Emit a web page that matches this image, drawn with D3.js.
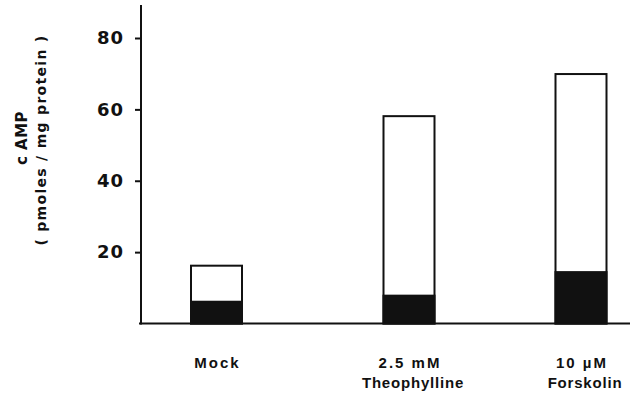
<!DOCTYPE html>
<html>
<head>
<meta charset="utf-8">
<script src="https://cdn.jsdelivr.net/npm/d3@7"></script>
<style>
  body { margin: 0; background: #fff; overflow: hidden; }
  svg { display: block; }
  svg text { font-family: "DejaVu Sans", sans-serif; font-weight: bold; fill: #111; }
  svg text.cat { font-family: "Liberation Sans", Arial, sans-serif; }
</style>
</head>
<body>
<svg id="chart" width="630" height="394"></svg>
<script>
// cAMP levels, total (open bar) and the filled lower part
const categories = ["Mock", "Theophylline", "Forskolin"];
const labelLine1 = ["Mock", "2.5  mM", "10  \u00B5M"];
const labelLine2 = ["", "Theophylline", "Forskolin"];
const totalValues = [16.2, 58.1, 69.9];
const filledValues = [6.1, 7.8, 14.4];
const yTicks = [20, 40, 60, 80];

const svg = d3.select("#chart");

const y = d3.scaleLinear().domain([0, 80]).range([323.5, 38]);
// bars are not evenly spaced in the original figure
const x = d3.scaleOrdinal().domain(categories).range([216.5, 409, 581]);
const barW = 51;

// baseline
svg.append("line")
  .attr("x1", 139).attr("x2", 630)
  .attr("y1", y(0)).attr("y2", y(0))
  .attr("stroke", "#111").attr("stroke-width", 2);

// y axis
const yAxis = d3.axisLeft(y).tickValues(yTicks).tickSize(6).tickPadding(11);
const gy = svg.append("g").attr("transform", "translate(141,0)").call(yAxis);
gy.select(".domain").remove();
gy.selectAll(".tick line").attr("stroke", "#111").attr("stroke-width", 2);
gy.selectAll(".tick text")
  .style("font-size", "18px")
  .style("font-family", "DejaVu Sans, sans-serif")
  .style("font-weight", "bold")
  .style("letter-spacing", "1px")
  .attr("fill", "#111");
svg.append("line")
  .attr("x1", 141).attr("x2", 141)
  .attr("y1", 5).attr("y2", y(0) + 1)
  .attr("stroke", "#111").attr("stroke-width", 2);

// open bars (total)
svg.selectAll("rect.total")
  .data(categories)
  .join("rect")
  .attr("class", "total")
  .attr("x", d => x(d) - barW / 2)
  .attr("width", barW)
  .attr("y", (d, i) => y(totalValues[i]))
  .attr("height", (d, i) => y(0) - y(totalValues[i]))
  .attr("fill", "#fff")
  .attr("stroke", "#111")
  .attr("stroke-width", 2);

// filled portion
svg.selectAll("rect.filled")
  .data(categories)
  .join("rect")
  .attr("class", "filled")
  .attr("x", d => x(d) - barW / 2)
  .attr("width", barW)
  .attr("y", (d, i) => y(filledValues[i]))
  .attr("height", (d, i) => y(0) - y(filledValues[i]))
  .attr("fill", "#111")
  .attr("stroke", "#111")
  .attr("stroke-width", 2);

// category labels
svg.selectAll("text.l1")
  .data(categories)
  .join("text")
  .attr("class", "cat l1")
  .attr("x", d => x(d) + 1)
  .attr("y", 368)
  .attr("text-anchor", "middle")
  .style("font-size", "15px")
  .style("letter-spacing", "2px")
  .text((d, i) => labelLine1[i]);

svg.selectAll("text.l2")
  .data(categories)
  .join("text")
  .attr("class", "cat l2")
  .attr("x", d => x(d) + 4)
  .attr("y", 388)
  .attr("text-anchor", "middle")
  .style("font-size", "15px")
  .style("letter-spacing", "0.8px")
  .text((d, i) => labelLine2[i]);

// y axis title
svg.append("text")
  .attr("transform", "translate(27,138) rotate(-90)")
  .attr("text-anchor", "middle")
  .style("font-size", "15px")
  .style("letter-spacing", "0.5px")
  .text("c AMP");
svg.append("text")
  .attr("transform", "translate(46,140) rotate(-90)")
  .attr("text-anchor", "middle")
  .style("font-size", "14px")
  .style("letter-spacing", "1.3px")
  .text("( pmoles / mg  protein )");
</script>
</body>
</html>
